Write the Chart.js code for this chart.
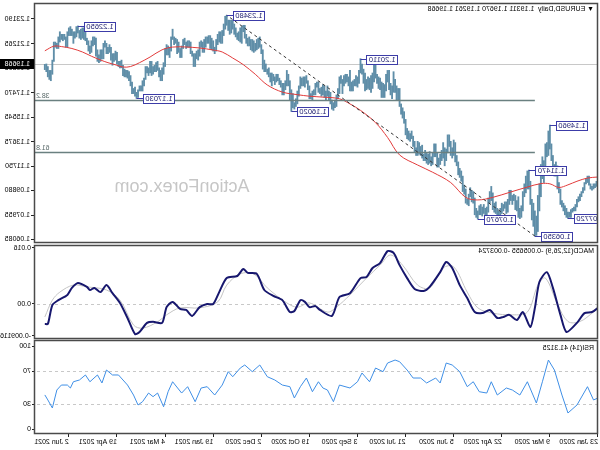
<!DOCTYPE html>
<html>
<head>
<meta charset="utf-8">
<script src="https://cdn.jsdelivr.net/npm/chart.js@4.4.0/dist/chart.umd.min.js"></script>
<style>
  body { margin: 0; background: #fff; }
  #wrap { position: relative; width: 600px; height: 450px; transform: scaleX(-1); overflow: hidden; }
  #wrap canvas { position: absolute; left: 0; }
</style>
</head>
<body>
<div id="wrap">
  <canvas id="priceChart" width="600" height="244" style="top:0"></canvas>
  <canvas id="macdChart" width="600" height="96" style="top:244px"></canvas>
  <canvas id="rsiChart" width="600" height="111" style="top:339px"></canvas>
</div>
<script>
// x axis: bar index (daily bars from 23 Jan 2020)
const xTickIdx = [0, 32, 64, 96, 128, 160, 192, 224, 256, 288, 320, 352];
const xTickLabels = ['23 Jan 2020', '9 Mar 2020', '22 Apr 2020', '5 Jun 2020', '21 Jul 2020', '3 Sep 2020',
    '19 Oct 2020', '2 Dec 2020', '19 Jan 2021', '4 Mar 2021', '19 Apr 2021', '2 Jun 2021'];

// price panel
const priceTicks = [1.23190, 1.21265, 1.19395, 1.17470, 1.15545, 1.13675, 1.11750, 1.09880, 1.07955, 1.06085];
const lastPrice = 1.19668;
const titleText = '\u25BC EURUSD,Daily  1.19311 1.19670 1.19261 1.19668';

const lows = [
    1.104,1.102,1.101,1.100,1.099,1.100,1.103,1.105,1.104,1.099,
    1.097,1.094,1.091,1.090,1.086,1.083,1.083,1.082,1.078,1.078,
    1.0772,1.078,1.080,1.083,1.086,1.088,1.097,1.100,1.110,1.110,
    1.111,1.122,1.131,1.126,1.125,1.117,1.105,1.108,1.094,1.083,
    1.067,1.064,1.0635,1.071,1.076,1.088,1.100,1.100,1.097,1.094,
    1.083,1.078,1.077,1.078,1.083,1.084,1.091,1.088,1.091,1.088,
    1.082,1.081,1.085,1.083,1.081,1.076,1.073,1.080,1.081,1.082,
    1.084,1.091,1.089,1.082,1.078,1.078,1.081,1.079,1.080,1.080,
    1.0767,1.078,1.080,1.089,1.090,1.094,1.087,1.088,1.089,1.096,
    1.098,1.106,1.109,1.111,1.118,1.121,1.126,1.124,1.126,1.133,
    1.128,1.122,1.118,1.124,1.122,1.119,1.117,1.117,1.125,1.125,
    1.119,1.118,1.120,1.119,1.120,1.122,1.122,1.124,1.126,1.127,
    1.126,1.126,1.129,1.133,1.139,1.137,1.138,1.139,1.142,1.151,
    1.155,1.158,1.164,1.169,1.169,1.175,1.175,1.170,1.173,1.177,
    1.183,1.176,1.171,1.171,1.171,1.177,1.178,1.182,1.186,1.183,
    1.178,1.175,1.177,1.178,1.177,1.176,1.182,1.189,1.190,1.182,
    1.179,1.180,1.180,1.176,1.176,1.176,1.180,1.183,1.182,1.180,
    1.174,1.182,1.174,1.170,1.164,1.163,1.161,1.162,1.166,1.169,
    1.172,1.169,1.171,1.173,1.172,1.174,1.175,1.179,1.173,1.173,
    1.169,1.170,1.170,1.177,1.182,1.179,1.180,1.180,1.178,1.172,
    1.166,1.164,1.162,1.163,1.1602,1.169,1.180,1.180,1.177,1.173,
    1.173,1.179,1.181,1.184,1.183,1.181,1.184,1.180,1.183,1.187,
    1.189,1.191,1.191,1.193,1.205,1.210,1.209,1.208,1.207,1.206,
    1.207,1.208,1.211,1.211,1.213,1.217,1.222,1.213,1.214,1.215,
    1.216,1.218,1.220,1.224,1.221,1.220,1.223,1.227,1.224,1.219,
    1.213,1.213,1.214,1.212,1.207,1.205,1.207,1.208,1.209,1.213,
    1.213,1.210,1.206,1.206,1.210,1.203,1.200,1.201,1.195,1.195,
    1.203,1.205,1.210,1.210,1.209,1.212,1.209,1.202,1.202,1.206,
    1.205,1.213,1.212,1.216,1.207,1.202,1.204,1.204,1.195,1.189,
    1.184,1.184,1.187,1.192,1.191,1.191,1.189,1.188,1.190,1.188,
    1.190,1.185,1.180,1.176,1.176,1.176,1.171,1.1703,1.172,1.174,
    1.174,1.180,1.184,1.186,1.187,1.187,1.188,1.194,1.194,1.195,
    1.197,1.200,1.199,1.196,1.200,1.206,1.205,1.205,1.210,1.201,
    1.201,1.199,1.198,1.199,1.203,1.212,1.211,1.206,1.205,1.207,
    1.212,1.215,1.216,1.217,1.216,1.217,1.221,1.218,1.217,1.213,
    1.219,1.219,1.219,1.210,1.210,1.216,1.215,1.216,1.214,1.209,
    1.209,1.210,1.199,1.189,1.184,1.185,1.187,1.191,1.1926
];
const highs = [
    1.110,1.106,1.104,1.104,1.102,1.104,1.110,1.110,1.108,1.105,
    1.101,1.098,1.096,1.094,1.092,1.088,1.086,1.085,1.084,1.082,
    1.082,1.085,1.087,1.089,1.091,1.100,1.105,1.118,1.121,1.119,
    1.126,1.135,1.1496,1.145,1.136,1.135,1.122,1.125,1.119,1.104,
    1.095,1.079,1.083,1.089,1.092,1.106,1.1147,1.114,1.110,1.104,
    1.098,1.087,1.085,1.094,1.091,1.095,1.096,1.095,1.099,1.099,
    1.092,1.090,1.090,1.088,1.089,1.085,1.083,1.085,1.090,1.089,
    1.097,1.102,1.098,1.093,1.086,1.085,1.088,1.086,1.088,1.087,
    1.083,1.085,1.093,1.098,1.099,1.101,1.096,1.092,1.100,1.103,
    1.110,1.114,1.116,1.121,1.126,1.136,1.138,1.132,1.137,1.142,
    1.142,1.131,1.132,1.136,1.130,1.127,1.124,1.128,1.135,1.135,
    1.128,1.125,1.129,1.127,1.128,1.130,1.127,1.134,1.133,1.136,
    1.137,1.132,1.137,1.141,1.145,1.143,1.145,1.147,1.154,1.160,
    1.163,1.166,1.178,1.178,1.180,1.185,1.191,1.180,1.182,1.192,
    1.192,1.189,1.181,1.182,1.183,1.186,1.187,1.189,1.197,1.196,
    1.190,1.188,1.186,1.187,1.185,1.190,1.193,1.197,1.2011,1.192,
    1.187,1.188,1.185,1.184,1.183,1.192,1.187,1.189,1.189,1.188,
    1.185,1.188,1.187,1.178,1.173,1.169,1.167,1.169,1.175,1.176,
    1.180,1.176,1.180,1.181,1.179,1.178,1.183,1.183,1.182,1.177,
    1.176,1.174,1.180,1.184,1.188,1.187,1.187,1.186,1.187,1.180,
    1.176,1.170,1.167,1.174,1.177,1.184,1.189,1.192,1.184,1.182,
    1.182,1.184,1.186,1.189,1.189,1.187,1.189,1.190,1.190,1.194,
    1.193,1.197,1.200,1.208,1.212,1.218,1.217,1.216,1.213,1.215,
    1.216,1.216,1.218,1.217,1.220,1.227,1.227,1.226,1.225,1.222,
    1.221,1.225,1.228,1.231,1.231,1.231,1.231,1.2348,1.234,1.228,
    1.223,1.222,1.222,1.220,1.216,1.210,1.215,1.217,1.219,1.219,
    1.218,1.218,1.216,1.214,1.215,1.214,1.208,1.207,1.205,1.205,
    1.207,1.214,1.215,1.215,1.214,1.217,1.216,1.211,1.209,1.214,
    1.216,1.217,1.218,1.224,1.218,1.210,1.211,1.212,1.209,1.198,
    1.194,1.192,1.194,1.199,1.198,1.196,1.195,1.199,1.199,1.194,
    1.195,1.195,1.186,1.184,1.180,1.180,1.177,1.175,1.179,1.178,
    1.183,1.188,1.191,1.192,1.192,1.193,1.196,1.200,1.199,1.199,
    1.206,1.207,1.205,1.205,1.210,1.212,1.210,1.213,1.215,1.213,
    1.208,1.208,1.204,1.208,1.217,1.218,1.218,1.215,1.211,1.215,
    1.217,1.224,1.225,1.225,1.224,1.223,1.2265,1.226,1.222,1.222,
    1.224,1.226,1.225,1.222,1.218,1.220,1.220,1.220,1.222,1.218,
    1.213,1.214,1.214,1.200,1.192,1.192,1.195,1.197,1.1967
];

// moving average (red), read at sample bars
const maIdx = [0,7,14,20,26,32,38,47,58,70,80,88,98,110,120,132,140,148,158,165,172,182,192,200,
    210,220,228,236,243,250,256,265,275,283,290,298,305,311,316,320,326,331,337,343,350,357,362,368];
const maVal = [1.1093,1.1085,1.1060,1.1032,1.1012,1.1040,1.1042,1.1015,1.0977,1.0935,1.0915,1.0935,
    1.1050,1.1130,1.1186,1.1264,1.1400,1.1515,1.1610,1.1660,1.1700,1.1712,1.1720,1.1732,
    1.1752,1.1807,1.1890,1.1965,1.2016,1.2063,1.2078,1.2094,1.2102,1.2101,1.2080,1.2024,
    1.1980,1.1950,1.1946,1.1960,1.1980,1.2001,1.2030,1.2063,1.2090,1.2105,1.2108,1.2072];

// zigzag swing labels
const zzIdx = [20, 32, 42, 46, 80, 158, 204, 247, 307, 346];
const zzPrice = [1.0772, 1.1496, 1.0635, 1.1147, 1.0767, 1.2011, 1.1602, 1.2348, 1.1703, 1.2265];

// fibonacci retracement
const fibAnchorIdx = [42, 247];
const fibAnchorPrice = [1.0635, 1.2348];
const fibRatios = [0.382, 0.618];
const fibLabels = ['38.2', '61.8'];

// MACD(12,26,9)
const macdTitle = 'MACD(12,26,9) -0.005655 -0.003724';
const macdTicks = [0.016, 0, -0.009116];
const macdTickLabels = ['0.016', '0.00', '-0.009116'];
const macdIdx = [0,4,9,14,21,25,30,34,39,42,45,50,54,59,63,67,72,77,82,87,92,97,101,105,112,116,122,127,132,136,
    140,145,150,154,158,165,172,177,185,188,192,195,198,202,205,210,216,222,227,233,236,240,247,252,256,260,
    265,270,274,278,283,287,290,296,300,305,308,313,318,323,327,331,335,338,340,346,350,353,359,363,366,368];
const macdVal = [-0.0011,-0.0023,-0.0026,-0.0054,-0.0080,-0.0031,0.0046,0.0091,0.0063,-0.0011,
    -0.0066,-0.0023,-0.0046,-0.0031,-0.0037,-0.0040,-0.0017,-0.0026,-0.0023,0.0017,
    0.0054,0.0103,0.0120,0.0091,0.0049,0.0037,0.0043,0.0074,0.0111,0.0146,
    0.0151,0.0117,0.0103,0.0077,0.0074,0.0031,0.0020,-0.0034,-0.0017,-0.0006,
    -0.0009,0.0006,0.0011,-0.0020,-0.0023,0.0011,0.0023,0.0040,0.0086,0.0089,
    0.0100,0.0080,0.0074,0.0034,0.0000,0.0000,-0.0009,-0.0034,-0.0017,-0.0014,
    0.0006,-0.0009,-0.0054,-0.0051,-0.0054,-0.0080,-0.0086,-0.0040,0.0003,0.0031,
    0.0054,0.0034,0.0046,0.0040,0.0049,0.0060,0.0046,0.0026,0.0011,-0.0003,
    -0.0057,-0.0057];
const sigIdx = [0,3,12,20,27,35,40,47,57,70,80,87,96,103,112,120,130,138,145,154,165,174,180,192,200,207,
    220,229,238,247,253,265,278,287,293,303,309,318,327,340,349,358,363,368];
const sigVal = [-0.0012,-0.0023,-0.0050,-0.0050,0.0000,0.0074,0.0054,-0.0023,-0.0031,-0.0026,
    -0.0011,0.0034,0.0106,0.0103,0.0046,0.0054,0.0111,0.0140,0.0111,0.0074,
    0.0026,-0.0009,-0.0023,0.0003,-0.0009,0.0003,0.0046,0.0086,0.0086,0.0054,
    0.0006,-0.0011,-0.0011,-0.0031,-0.0051,-0.0069,-0.0060,0.0011,0.0040,0.0049,
    0.0054,0.0034,0.0011,-0.0037];

// RSI(14)
const rsiTitle = 'RSI(14) 41.3125';
const rsiTicks = [100, 70, 30, 0];
const rsiLevels = [70, 30];
const rsiIdx = [0,3,7,14,20,24,29,33,37,41,47,52,57,61,67,71,74,79,83,87,92,97,101,105,108,114,118,123,127,132,
    135,140,143,148,152,157,160,165,172,176,180,183,186,190,194,198,202,205,210,215,220,225,230,235,238,243,
    246,250,255,260,264,268,273,277,283,286,289,293,296,299,303,306,309,313,319,323,327,330,333,338,341,345,
    349,351,353,357,360,363,366,368];
const rsiVal = [37.6,35.2,51.3,29.1,19.4,41.2,71.5,83.6,57.3,31.5,57.3,41.2,47.3,49.7,41.2,57.3,43.6,45.2,57.3,51.3,
    69.5,77.6,80,55.8,61.8,55.8,61.8,61.8,71.5,81.6,83.6,80,69.5,73.9,57.3,67.9,57.3,49.7,53.3,33.1,
    47.3,49.7,57.3,45.2,61.8,51.3,37.6,51.3,53.3,59.4,63.4,77.6,69.5,77.6,73.9,63.4,69.5,53.3,41.2,51.3,
    49.7,33.1,51.3,43.6,57.3,45.2,27,43.6,39.2,43.6,33.1,29.1,41.2,53.3,65.5,65.5,71.5,55.8,65.5,57.3,
    65.5,59.4,57.3,49.7,53.3,53.3,47.3,25.5,35.2,41.3];

const FONT = '"Liberation Sans", Arial, sans-serif';
Chart.defaults.font.family = FONT;
Chart.defaults.font.size = 7;
Chart.defaults.color = '#000';
Chart.defaults.animation = false;

function pairs(xs, ys) { return xs.map((v, i) => ({ x: v, y: ys[i] })); }

function xAxis(show) {
    const axis = {
        type: 'linear', min: 0, max: 375.2, display: show, offset: false,
        afterBuildTicks: (s) => { s.ticks = xTickIdx.map(v => ({ value: v })); },
        grid: { drawOnChartArea: false, drawTicks: true, tickLength: 3, color: '#222' },
        border: { display: false },
        ticks: { align: 'start', padding: 1, maxRotation: 0, autoSkip: false, callback: (v, i) => xTickLabels[i] },
    };
    if (show) {
        axis.afterFit = (s) => { s.height = 16; s.paddingLeft = 0; s.paddingRight = 0; };
    }
    return axis;
}

function yAxis(min, max, tickList, labelFn, tickLen) {
    return {
        position: 'right', min: min, max: max,
        afterFit: (s) => { s.width = 34; s.paddingTop = 0; s.paddingBottom = 0; },
        afterBuildTicks: (s) => { s.ticks = tickList.map(v => ({ value: v })); },
        grid: { drawOnChartArea: false, drawTicks: true, tickLength: tickLen, color: '#222' },
        border: { display: false },
        ticks: { padding: 1, autoSkip: false, callback: labelFn },
    };
}

function drawFrame(chart) {
    const { ctx, chartArea: a } = chart;
    ctx.save();
    ctx.strokeStyle = '#4a4a4a';
    ctx.lineWidth = 1.5;
    ctx.strokeRect(a.left + 0.5, a.top + 0.5, a.right - a.left - 1, a.bottom - a.top - 1);
    ctx.restore();
}

function drawTitle(chart, txt, dy) {
    const { ctx, chartArea: a } = chart;
    ctx.save();
    ctx.fillStyle = '#000';
    ctx.font = '7px ' + FONT;
    ctx.textAlign = 'left';
    ctx.textBaseline = 'middle';
    ctx.fillText(txt, a.left + 4, a.top + dy);
    ctx.restore();
}

function drawLevels(chart, levels) {
    const { ctx, chartArea: a, scales: { y } } = chart;
    ctx.save();
    ctx.strokeStyle = '#c8c8c8';
    ctx.lineWidth = 1;
    ctx.setLineDash([3, 3]);
    levels.forEach(v => {
        const py = Math.round(y.getPixelForValue(v)) + 0.5;
        ctx.beginPath(); ctx.moveTo(a.left, py); ctx.lineTo(a.right, py); ctx.stroke();
    });
    ctx.restore();
}

//graphique prix
const priceDecor = {
    id: 'priceDecor',
    beforeDatasetsDraw(chart) {
        const { ctx, chartArea: a, scales: { y } } = chart;
        ctx.save();
        ctx.fillStyle = '#c6c6c6';
        ctx.font = '18px ' + FONT;
        ctx.textAlign = 'center';
        ctx.textBaseline = 'middle';
        ctx.fillText('ActionForex.com', 418, 187);
        const py = Math.round(y.getPixelForValue(lastPrice)) + 0.5;
        ctx.strokeStyle = '#c8c8c8';
        ctx.lineWidth = 1;
        ctx.beginPath(); ctx.moveTo(a.left, py); ctx.lineTo(a.right, py); ctx.stroke();
        ctx.restore();
    },
    afterDatasetsDraw(chart) {
        const { ctx, chartArea: a, scales: { x, y } } = chart;
        ctx.save();
        ctx.beginPath();
        ctx.rect(a.left, a.top, a.right - a.left, a.bottom - a.top);
        ctx.clip();
        // fibonacci levels
        const lo = fibAnchorPrice[0], hi = fibAnchorPrice[1];
        const fx = x.getPixelForValue(fibAnchorIdx[0]);
        ctx.font = '7px ' + FONT;
        ctx.textAlign = 'right';
        ctx.textBaseline = 'bottom';
        fibRatios.forEach((r, k) => {
            const ly = Math.round(y.getPixelForValue(hi - r * (hi - lo))) + 0.5;
            ctx.strokeStyle = '#6a8080';
            ctx.lineWidth = 1.3;
            ctx.beginPath(); ctx.moveTo(fx, ly); ctx.lineTo(a.right, ly); ctx.stroke();
            ctx.fillStyle = '#5a6a6a';
            ctx.fillText(fibLabels[k], a.right - 2, ly - 1);
        });
        ctx.setLineDash([3, 3]);
        ctx.strokeStyle = '#333';
        ctx.lineWidth = 1;
        ctx.beginPath();
        ctx.moveTo(fx, y.getPixelForValue(lo));
        ctx.lineTo(x.getPixelForValue(fibAnchorIdx[1]), y.getPixelForValue(hi));
        ctx.stroke();
        ctx.setLineDash([]);
        // zigzag labels
        ctx.font = '7.5px ' + FONT;
        ctx.textAlign = 'left';
        ctx.textBaseline = 'middle';
        zzIdx.forEach((xi, k) => {
            const px = x.getPixelForValue(xi);
            const py = Math.round(y.getPixelForValue(zzPrice[k])) + 0.5;
            const txt = zzPrice[k].toFixed(5);
            const w = Math.round(ctx.measureText(txt).width) + 4, h = 9;
            const bx = Math.round(px - 7 - w) + 0.5, by = Math.round(py - h / 2);
            ctx.strokeStyle = '#3c3ca8';
            ctx.lineWidth = 1;
            ctx.beginPath(); ctx.moveTo(px, py); ctx.lineTo(bx + w, py); ctx.stroke();
            ctx.fillStyle = '#fff';
            ctx.fillRect(bx, by, w, h);
            ctx.strokeRect(bx, by + 0.5, w, h);
            ctx.fillStyle = '#1c1c70';
            ctx.fillText(txt, bx + 2, py + 0.5);
        });
        ctx.restore();
    },
    afterDraw(chart) {
        const { ctx, chartArea: a, scales: { y } } = chart;
        drawFrame(chart);
        drawTitle(chart, titleText, 6);
        const py = Math.round(y.getPixelForValue(lastPrice));
        ctx.save();
        ctx.fillStyle = '#000';
        ctx.fillRect(a.right, py - 5, 34, 10);
        ctx.fillStyle = '#fff';
        ctx.font = '7px ' + FONT;
        ctx.textAlign = 'left';
        ctx.textBaseline = 'middle';
        ctx.fillText(lastPrice.toFixed(5), a.right + 4, py);
        ctx.restore();
    },
};

const priceChart = new Chart(document.querySelector('#priceChart'), {
    type: 'bar',
    data: {
        datasets: [
            {
                type: 'line',
                data: pairs(maIdx, maVal),
                borderColor: '#e23b3b',
                borderWidth: 1,
                pointRadius: 0,
                tension: 0.35,
                order: 1,
            },
            {
                data: highs.map((h, i) => ({ x: i, y: [lows[i], h] })),
                backgroundColor: '#5f8ea8',
                borderWidth: 0,
                barThickness: 1.2,
                order: 2,
            },
        ],
    },
    options: {
        responsive: false,
        devicePixelRatio: 1,
        layout: { padding: { left: 2, top: 3, bottom: 1, right: 0 } },
        plugins: { legend: { display: false }, tooltip: { enabled: false } },
        scales: {
            x: xAxis(false),
            y: yAxis(1.0581, 1.2443, priceTicks, (v) => v.toFixed(5), 3),
        },
    },
    plugins: [priceDecor],
});

//graphique MACD
const macdChart = new Chart(document.querySelector('#macdChart'), {
    type: 'line',
    data: {
        datasets: [
            {
                data: pairs(macdIdx, macdVal),
                borderColor: '#17176e',
                borderWidth: 2,
                pointRadius: 0,
                tension: 0.25,
            },
            {
                data: pairs(sigIdx, sigVal),
                borderColor: '#c4c4c4',
                borderWidth: 1,
                pointRadius: 0,
                tension: 0.35,
            },
        ],
    },
    options: {
        responsive: false,
        devicePixelRatio: 1,
        layout: { padding: { left: 2, top: 1, bottom: 1, right: 0 } },
        plugins: { legend: { display: false }, tooltip: { enabled: false } },
        scales: {
            x: xAxis(false),
            y: yAxis(-0.0100, 0.016857, macdTicks, (v, i) => macdTickLabels[i], 2),
        },
    },
    plugins: [{
        id: 'macdDecor',
        beforeDatasetsDraw(chart) { drawLevels(chart, [0]); },
        afterDraw(chart) { drawFrame(chart); drawTitle(chart, macdTitle, 6); },
    }],
});

//graphique RSI
const rsiChart = new Chart(document.querySelector('#rsiChart'), {
    type: 'line',
    data: {
        datasets: [
            {
                data: pairs(rsiIdx, rsiVal),
                borderColor: '#3f8fe6',
                borderWidth: 1,
                pointRadius: 0,
                tension: 0,
            },
        ],
    },
    options: {
        responsive: false,
        devicePixelRatio: 1,
        layout: { padding: { left: 2, top: 1, bottom: 0, right: 0 } },
        plugins: { legend: { display: false }, tooltip: { enabled: false } },
        scales: {
            x: xAxis(true),
            y: yAxis(-6.06, 107.9, rsiTicks, (v) => String(v), 2),
        },
    },
    plugins: [{
        id: 'rsiDecor',
        beforeDatasetsDraw(chart) { drawLevels(chart, rsiLevels); },
        afterDraw(chart) { drawFrame(chart); drawTitle(chart, rsiTitle, 8); },
    }],
});
</script>
</body>
</html>
